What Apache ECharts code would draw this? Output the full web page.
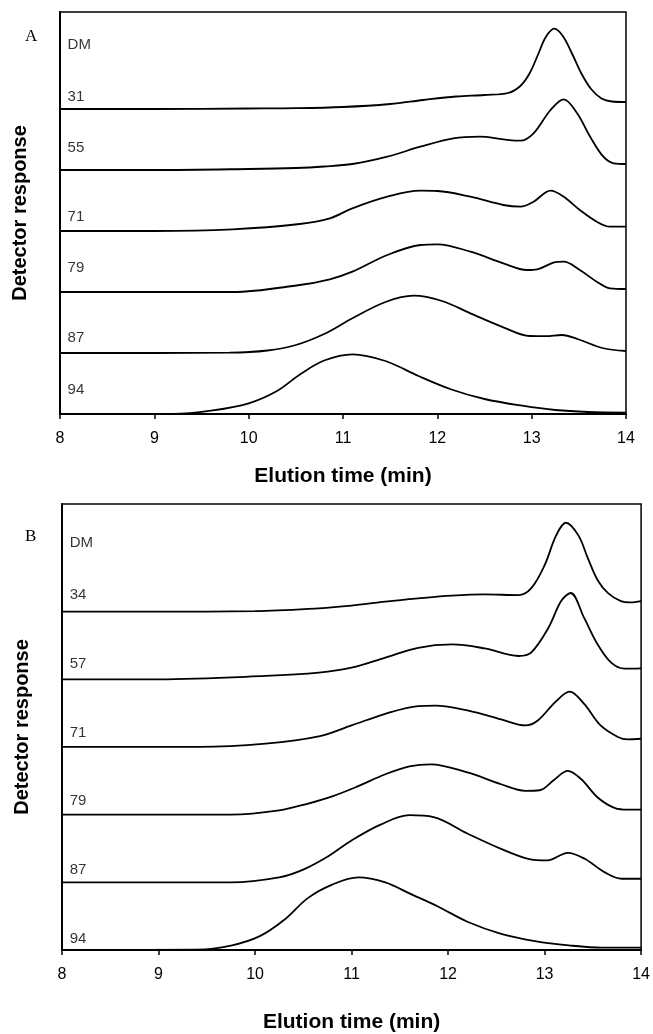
<!DOCTYPE html>
<html>
<head>
<meta charset="utf-8">
<title>Elution profiles</title>
<script src="https://cdn.jsdelivr.net/npm/echarts@6/dist/echarts.min.js"></script>
<style>
	html, body { margin: 0; padding: 0; background: #fff; }
	#chart { width: 653px; height: 1034px; }
</style>
</head>
<body>
<div id="chart"></div>
<script>
// 洗脱时间轴刻度 (min)
var xTicks = [8, 9, 10, 11, 12, 13, 14];

// 每条曲线的基线偏移 (从上到下)
var offsets = [305, 244, 183, 122, 61, 0];

// A 图: 标签 + 曲线 [时间, 响应]
var labelsA = ['DM', '31', '55', '71', '79', '87', '94'];
var labelYA = [369, 317, 266, 197, 146, 76, 24];

var a31 = [[8,0],[9,0],[10,0.5],[10.5,0.8],[11,2],[11.5,5],[11.85,9],[12.2,12.5],[12.5,14],[12.75,16],[12.88,23],[12.98,36],[13.07,55],[13.15,72],[13.24,80.3],[13.33,73],[13.43,55],[13.53,35],[13.63,20],[13.74,10.5],[13.85,7.5],[14,7]];
var a55 = [[8,0],[9,0],[10,1],[10.5,2],[10.8,3.5],[11.1,6],[11.47,13.3],[11.82,23.3],[12.17,31.7],[12.45,33.3],[12.7,30.7],[12.88,29.3],[13.02,36.7],[13.2,60],[13.34,70.7],[13.48,57],[13.62,33.3],[13.76,13.3],[13.87,6.7],[14,6]];
var a71 = [[8,0],[9,0],[9.83,1.7],[10.54,7],[10.86,12.7],[11.1,22.7],[11.47,34.3],[11.82,40.3],[12.0,40],[12.35,34.3],[12.7,26],[12.88,24.3],[13.02,29.3],[13.2,40.3],[13.34,34.3],[13.51,21],[13.69,9.3],[13.83,4.3],[14,4.3]];
var a79 = [[8,0],[9,0],[9.83,0],[10.54,7],[10.86,12.7],[11.1,20.3],[11.47,37],[11.82,47],[12.0,47.7],[12.35,40.3],[12.7,28.7],[12.95,22],[13.06,22.7],[13.23,29.3],[13.34,30.3],[13.51,22],[13.69,10.3],[13.83,3.7],[14,3]];
var a87 = [[8,0],[9,0],[9.8,0.3],[10.2,2.5],[10.5,8],[10.8,19],[11.1,34.7],[11.45,51],[11.75,57.3],[12.05,52],[12.35,39.7],[12.7,25.7],[12.98,17],[13.15,16.8],[13.32,18],[13.5,13.5],[13.75,5],[14,2]];
var a94 = [[8,0],[9.2,0],[9.6,3.3],[10.0,10.7],[10.3,23],[10.55,40],[10.8,53.5],[11.1,59.7],[11.45,53],[11.8,38],[12.15,24.5],[12.5,15],[12.9,8.3],[13.25,4],[13.6,2],[14,1.3]];

// B 图
var labelsB = ['DM', '34', '57', '71', '79', '87', '94'];
var labelYB = [367, 320, 258, 196, 134, 72, 10];

var b34 = [[8,0],[9,0],[10,0.4],[10.66,3],[11.0,5.4],[11.35,9],[11.69,11.9],[12.04,14.4],[12.38,15.5],[12.73,14.9],[12.86,20.9],[13.0,41.8],[13.12,68.7],[13.22,80.1],[13.35,68.7],[13.45,47.8],[13.55,28.3],[13.66,16.4],[13.79,9.5],[13.89,8.3],[14,9.5]];
var b57 = [[8,0],[9,0],[10.11,3],[10.66,6],[11.0,10.5],[11.35,19.5],[11.69,28.4],[12.04,31.4],[12.38,27.8],[12.73,21],[12.86,24],[13.04,46.4],[13.17,70.3],[13.27,77.8],[13.41,55.3],[13.55,31.4],[13.69,15],[13.83,9.6],[14,9.9]];
var b71 = [[8,0],[9.42,0],[10.11,3],[10.66,9.5],[11.0,19.4],[11.35,29.9],[11.69,36.8],[11.87,37.3],[12.21,32.8],[12.55,24.8],[12.8,19.4],[12.93,23.9],[13.11,40.4],[13.26,49.9],[13.41,38.8],[13.58,19.4],[13.76,9],[13.86,6.8],[14,7.4]];
var b79 = [[8,0],[9.75,0],[10.25,3.8],[10.55,10],[10.8,16.5],[11.05,25],[11.35,36.4],[11.6,43.5],[11.82,45.4],[12.2,38],[12.55,27.4],[12.8,21.5],[12.95,22],[13.1,31.5],[13.24,39.5],[13.38,31.9],[13.55,15.5],[13.73,5.9],[13.86,4.5],[14,4.5]];
var b87 = [[8,0],[9.75,0],[10.25,4.5],[10.5,11.5],[10.75,23],[11.0,37.7],[11.3,52],[11.6,60.5],[11.85,58.8],[12.2,44],[12.55,30.1],[12.83,21.2],[13.03,19.8],[13.24,26.6],[13.42,21],[13.62,9.2],[13.8,3.2],[14,3.2]];
var b94 = [[8,0],[9.4,0.3],[9.75,4],[10.05,12.5],[10.3,27],[10.55,47],[10.8,59],[11.07,65.5],[11.35,61],[11.6,51],[11.9,39],[12.2,25.5],[12.55,14.6],[12.9,8.1],[13.25,4.2],[13.6,2.1],[14,2.1]];

var tracesA = [a31, a55, a71, a79, a87, a94];
var tracesB = [b34, b57, b71, b79, b87, b94];

var FONT = 'Liberation Sans, Arial, sans-serif';

function shift(trace, off) {
	return trace.map(function(p) { return [p[0], p[1] + off]; });
}

function makeXAxis(idx, gap) {
	return {
		gridIndex : idx,
		type : 'value',
		min : xTicks[0],
		max : xTicks[xTicks.length - 1],
		interval : 1,
		name : 'Elution time (min)',
		nameLocation : 'middle',
		nameGap : gap,
		nameTextStyle : { color : '#000', fontSize : 21, fontWeight : 'bold', fontFamily : FONT },
		axisLine : { lineStyle : { color : '#000', width : 2 } },
		axisTick : { length : 5, lineStyle : { color : '#000', width : 1.5 } },
		axisLabel : { color : '#000', fontSize : 16, margin : 17, fontFamily : FONT },
		splitLine : { show : false }
	};
}

function makeYAxis(idx) {
	return {
		gridIndex : idx,
		type : 'value',
		min : 0,
		max : 402,
		name : 'Detector response',
		nameLocation : 'middle',
		nameGap : 30,
		nameRotate : 90,
		nameTextStyle : { color : '#000', fontSize : 20, fontWeight : 'bold', fontFamily : FONT },
		axisLine : { show : true, lineStyle : { color : '#000', width : 2 } },
		axisTick : { show : false },
		axisLabel : { show : false },
		splitLine : { show : false }
	};
}

var series = [];
function addPanel(idx, traces, labels, labelY) {
	for (var i = 0; i < traces.length; i++) {
		series.push({
			type : 'line',
			xAxisIndex : idx,
			yAxisIndex : idx,
			data : shift(traces[i], offsets[i]),
			smooth : 0.35,
			showSymbol : false,
			lineStyle : { color : '#000', width : 1.8 },
			silent : true
		});
	}
	// 样品标签
	var pts = [];
	for (var j = 0; j < labels.length; j++) {
		pts.push({ value : [8.08, labelY[j]], name : labels[j] });
	}
	series.push({
		type : 'scatter',
		xAxisIndex : idx,
		yAxisIndex : idx,
		symbolSize : 0,
		silent : true,
		data : pts,
		label : {
			show : true,
			position : 'right',
			distance : 0,
			formatter : '{b}',
			color : '#000',
			fontSize : 15,
			fontFamily : FONT
		}
	});
}
addPanel(0, tracesA, labelsA, labelYA);
addPanel(1, tracesB, labelsB, labelYB);

var option = {
	animation : false,
	backgroundColor : '#fff',
	title : [ {
		text : 'A', left : 20, top : 23,
		textStyle : { fontFamily : 'Liberation Serif, serif', fontWeight : 'normal', fontSize : 17, color : '#000' }
	}, {
		text : 'B', left : 20, top : 523,
		textStyle : { fontFamily : 'Liberation Serif, serif', fontWeight : 'normal', fontSize : 17, color : '#000' }
	} ],
	grid : [ {
		left : 60, top : 12, width : 566, height : 402,
		show : true, borderColor : '#000', borderWidth : 1.5
	}, {
		left : 62, top : 504, width : 581, height : 449,
		show : true, borderColor : '#000', borderWidth : 1.5
	} ],
	xAxis : [ makeXAxis(0, 52), makeXAxis(1, 62) ],
	yAxis : [ makeYAxis(0), makeYAxis(1) ],
	series : series
};

var myChart = echarts.init(document.getElementById('chart'));
myChart.setOption(option);
</script>
</body>
</html>
